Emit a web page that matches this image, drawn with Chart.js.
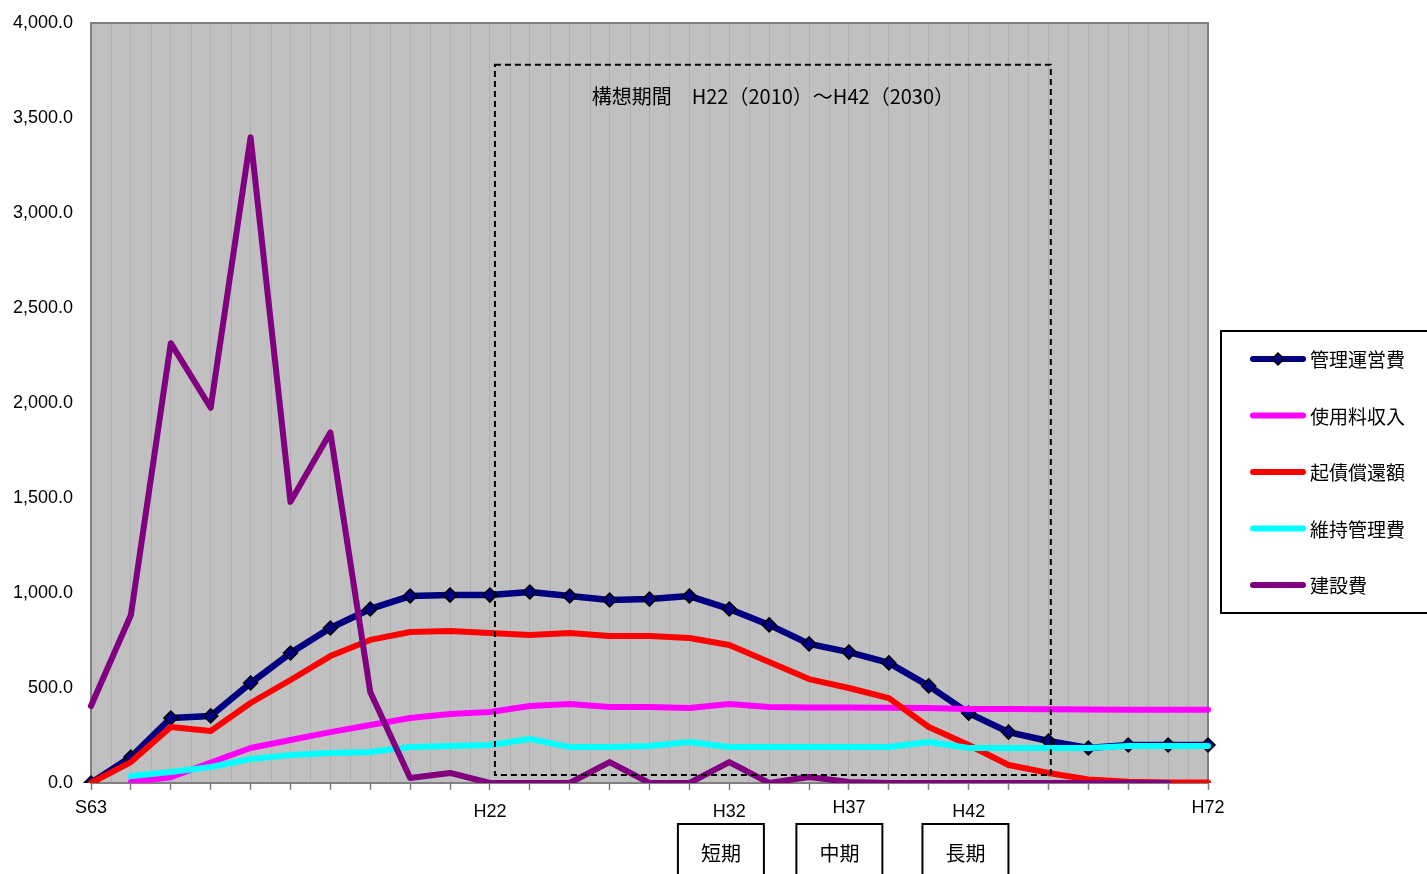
<!DOCTYPE html>
<html>
<head>
<meta charset="utf-8">
<script src="https://cdn.jsdelivr.net/npm/chart.js@4.4.1/dist/chart.umd.min.js"></script>
<style>
  html, body { margin: 0; padding: 0; background: #fff; overflow: hidden; }
  #wrap { width: 1427px; height: 874px; position: relative; }
</style>
</head>
<body>
<div id="wrap"><canvas id="c" width="1427" height="874"></canvas></div>
<script>
// Axis labels (only the milestone years are printed)
const xLabels = ['S63','','','','','','','','','','H22','','','','','','H32','','','H37','','','H42','','','','','','H72'];
const yTicksMax = 4000;
const yTickStep = 500;

// Series (百万円)
const seriesNames = ['管理運営費', '使用料収入', '起債償還額', '維持管理費', '建設費'];
const kanriUnei = [0,137,342,353,526,684,816,916,984,989,989,1005,984,963,968,984,916,832,732,689,632,511,368,268,221,184,200,200,200];
const shiyoryo  = [null,5,30,108,184,226,268,305,342,363,374,405,416,400,400,395,416,400,398,397,396,395,390,389,388,387,386,386,386];
const kisai     = [0,110,295,274,421,542,668,753,795,800,789,779,789,774,774,763,726,637,547,500,447,295,200,95,53,18,6,3,3];
const iji       = [null,37,58,84,126,147,158,163,189,195,200,232,189,189,195,216,189,189,189,189,189,216,184,184,184,184,195,195,195];
const kensetsu  = [405,884,2315,1975,3398,1480,1845,479,26,53,0,0,0,110,0,0,110,0,32,5,0,0,0,0,0,0,0,0,null];

// Planning period frame and phase boxes
const periodTitle = '構想期間　H22（2010）～H42（2030）';
const periodFrame = { from: 10.125, to: 24.06, low: 42, high: 3780 };
const phaseNames = ['短期', '中期', '長期'];
const phaseCenters = [15.79, 18.76, 21.92];

// Labels printed a little lower under the axis
const lowLabels = new Set(['H22', 'H32', 'H42']);

const LATIN = '"Liberation Sans", Arial, sans-serif';
const CJK = '"Noto Sans CJK JP", "Noto Sans CJK SC", sans-serif';
const colors = ['#000080', '#FF00FF', '#FF0000', '#00FFFF', '#800080'];

const plotBackground = {
  id: 'plotBackground',
  beforeDraw(chart) {
    const { ctx, chartArea: a } = chart;
    ctx.save();
    ctx.fillStyle = '#C0C0C0';
    ctx.fillRect(a.left, a.top, a.right - a.left, a.bottom - a.top);
    ctx.restore();
  },
  beforeDatasetsDraw(chart) {
    const { ctx, chartArea: a, scales } = chart;
    const xs = scales.x;
    ctx.save();
    // intermediate vertical grid lines between categories
    ctx.strokeStyle = '#B0B0B0';
    ctx.lineWidth = 1;
    for (let i = 0; i < xLabels.length - 1; i++) {
      const px = Math.round(xs.getPixelForValue(i + 0.5)) + 0.5;
      ctx.beginPath();
      ctx.moveTo(px, a.top);
      ctx.lineTo(px, a.bottom);
      ctx.stroke();
    }
    // plot frame
    ctx.strokeStyle = '#808080';
    ctx.lineWidth = 2;
    ctx.strokeRect(a.left, a.top, a.right - a.left, a.bottom - a.top);
    ctx.restore();
  }
};

const overlays = {
  id: 'overlays',
  afterDatasetsDraw(chart) {
    const { ctx, scales } = chart;
    const xs = scales.x, ys = scales.y;
    const l = xs.getPixelForValue(periodFrame.from);
    const r = xs.getPixelForValue(periodFrame.to);
    const t = ys.getPixelForValue(periodFrame.high);
    const b = ys.getPixelForValue(periodFrame.low);
    ctx.save();
    ctx.strokeStyle = '#000';
    ctx.lineWidth = 2;
    ctx.setLineDash([6, 4]);
    ctx.strokeRect(l, t, r - l, b - t);
    ctx.setLineDash([]);
    ctx.fillStyle = '#000';
    ctx.font = '20px ' + CJK;
    ctx.textAlign = 'center';
    ctx.textBaseline = 'middle';
    ctx.fillText(periodTitle, (l + r) / 2, t + 32);
    ctx.restore();
  },
  afterDraw(chart) {
    const { ctx, scales, chartArea: a } = chart;
    const xs = scales.x;
    ctx.save();
    // phase boxes under the axis
    ctx.strokeStyle = '#000';
    ctx.lineWidth = 2;
    ctx.fillStyle = '#000';
    ctx.font = '20px ' + CJK;
    ctx.textAlign = 'center';
    ctx.textBaseline = 'middle';
    phaseNames.forEach((name, k) => {
      const cx = xs.getPixelForValue(phaseCenters[k]);
      const top = a.bottom + 41;
      const w = 86;
      ctx.beginPath();
      ctx.moveTo(cx - w / 2, chart.height + 2);
      ctx.lineTo(cx - w / 2, top);
      ctx.lineTo(cx + w / 2, top);
      ctx.lineTo(cx + w / 2, chart.height + 2);
      ctx.stroke();
      ctx.fillText(name, cx, top + 29);
    });

    // legend
    const bx = 1221, by = 331, bh = 282;
    ctx.strokeRect(bx, by, chart.width - bx + 10, bh);
    ctx.textAlign = 'left';
    ctx.font = '19px ' + CJK;
    chart.data.datasets.forEach((ds, k) => {
      const y = by + 28 + k * 56.5;
      ctx.strokeStyle = ds.borderColor;
      ctx.lineWidth = 6;
      ctx.lineCap = 'round';
      ctx.beginPath();
      ctx.moveTo(1253, y);
      ctx.lineTo(1303, y);
      ctx.stroke();
      if (ds.pointRadius > 0) {
        const s = 6;
        ctx.beginPath();
        ctx.moveTo(1278, y - s);
        ctx.lineTo(1278 + s, y);
        ctx.lineTo(1278, y + s);
        ctx.lineTo(1278 - s, y);
        ctx.closePath();
        ctx.fillStyle = ds.pointBackgroundColor;
        ctx.fill();
        ctx.lineWidth = 1.5;
        ctx.strokeStyle = '#000';
        ctx.stroke();
      }
      ctx.fillStyle = '#000';
      ctx.fillText(ds.label, 1310, y + 1);
    });
    ctx.restore();
  }
};

function lineSet(k, data, order, extra) {
  return Object.assign({
    label: seriesNames[k],
    data,
    borderColor: colors[k],
    backgroundColor: colors[k],
    borderWidth: 6,
    borderCapStyle: 'round',
    borderJoinStyle: 'round',
    pointRadius: 0,
    pointHoverRadius: 0,
    tension: 0,
    spanGaps: false,
    order
  }, extra || {});
}

new Chart(document.getElementById('c'), {
  type: 'line',
  data: {
    labels: xLabels,
    datasets: [
      lineSet(0, kanriUnei, 5, {
        borderWidth: 6.5,
        pointStyle: 'rectRot',
        pointRadius: 7,
        pointBackgroundColor: '#000080',
        pointBorderColor: '#000',
        pointBorderWidth: 1.5
      }),
      lineSet(1, shiyoryo, 4),
      lineSet(2, kisai, 3),
      lineSet(3, iji, 2),
      lineSet(4, kensetsu, 1)
    ]
  },
  options: {
    responsive: false,
    devicePixelRatio: 1,
    animation: false,
    layout: { padding: { left: 0, top: 23, right: 219, bottom: 0 } },
    plugins: {
      legend: { display: false },
      tooltip: { enabled: false }
    },
    scales: {
      x: {
        type: 'category',
        offset: false,
        afterFit(scale) { scale.height = 91; },
        grid: {
          display: true,
          color: '#B0B0B0',
          lineWidth: 1,
          drawOnChartArea: true,
          drawTicks: true,
          tickLength: 7,
          tickColor: '#808080',
          tickWidth: 1.5
        },
        border: { display: true, color: '#808080', width: 2 },
        ticks: {
          autoSkip: false,
          maxRotation: 0,
          minRotation: 0,
          padding: 7,
          color: '#000',
          font: (ctx) => ({
            family: LATIN,
            size: 18,
            lineHeight: lowLabels.has(xLabels[ctx.index]) ? '30px' : '22px'
          })
        }
      },
      y: {
        min: 0,
        max: yTicksMax,
        afterFit(scale) {
          scale.width = 91;
          scale.paddingTop = 0;
          scale.paddingBottom = 0;
        },
        grid: { display: false, drawTicks: false },
        border: { display: true, color: '#808080', width: 2 },
        ticks: {
          stepSize: yTickStep,
          padding: 18,
          color: '#000',
          font: { family: LATIN, size: 18 },
          callback: (v) => Number(v).toLocaleString('en-US', { minimumFractionDigits: 1, maximumFractionDigits: 1 })
        }
      }
    }
  },
  plugins: [plotBackground, overlays]
});
</script>
</body>
</html>
